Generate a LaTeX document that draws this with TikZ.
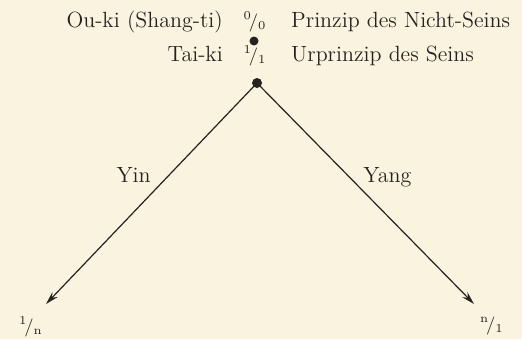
\documentclass[tikz,border=0pt]{standalone}
\usepackage{amsmath}
\usepackage{tikz}
\usetikzlibrary{arrows.meta,positioning}
\definecolor{paper}{RGB}{250,243,224}
\definecolor{ink}{RGB}{38,34,30}

\begin{document}
\begin{tikzpicture}[x=0.5pt, y=-0.5pt, >={Stealth[length=6.5pt,width=3.6pt]},
    every node/.style={font=\fontsize{11}{13}\selectfont, text=ink, inner sep=0pt},
    ratio/.style={font=\fontsize{9}{10}\selectfont},
    dot/.style={circle, fill=ink, inner sep=0pt, minimum size=#1},
    branch/.style={->, draw=ink, line width=0.6pt}]
    % Paper background
    \fill[paper] (0,0) rectangle (522,339);
    \useasboundingbox (0,0) rectangle (522,339);

    % Upper rows: names, ratios and meanings
    \node[ratio, anchor=base] (nullfrac) at (255,27) {$^{0}\!/_{0}$};
    \node[base left=10pt of nullfrac] (ouki) {Ou-ki (Shang-ti)};
    \node[base right=12pt of nullfrac] (nichtsein) {Prinzip des Nicht-Seins};
    \node[ratio, anchor=base] (onefrac) at (255,61) {$^{1}\!/_{1}$};
    \node[base left=10pt of onefrac] (taiki) {Tai-ki};
    \node[base right=12pt of onefrac] (sein) {Urprinzip des Seins};

    % Points
    \node[dot=4.5pt] (nullpt) at (254,41) {};
    \node[dot=5pt] (apex) at (257,83) {};

    % Branches Yin and Yang
    \coordinate (yinend) at (46,304);
    \coordinate (yangend) at (474,304);
    \draw[branch] (apex.center) -- (yinend);
    \draw[branch] (apex.center) -- (yangend);
    \node[anchor=base east] (yin) at (151,182) {Yin};
    \node[anchor=base west] (yang) at (363,182) {Yang};

    % End ratios
    \node[ratio] (onen) at (31,327) {$^{1}\!/_{\mathrm{n}}$};
    \node[ratio] (nfrac) at (492,326) {$^{\mathrm{n}}\!/_{1}$};
\end{tikzpicture}
\end{document}
